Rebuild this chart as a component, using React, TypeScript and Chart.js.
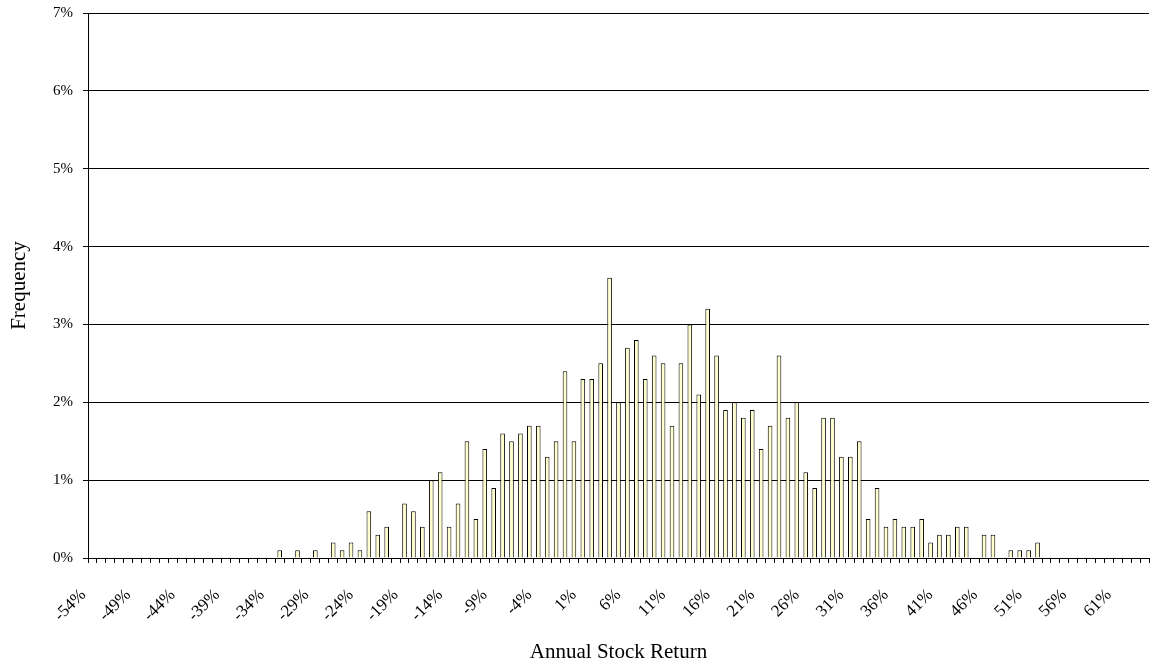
import React, { useEffect, useRef } from "react";
import { Chart, registerables } from "chart.js";

Chart.register(...registerables);

const categories: string[] = [
  "-54%", "-53%", "-52%", "-51%", "-50%", "-49%", "-48%", "-47%", "-46%", "-45%",
  "-44%", "-43%", "-42%", "-41%", "-40%", "-39%", "-38%", "-37%", "-36%", "-35%",
  "-34%", "-33%", "-32%", "-31%", "-30%", "-29%", "-28%", "-27%", "-26%", "-25%",
  "-24%", "-23%", "-22%", "-21%", "-20%", "-19%", "-18%", "-17%", "-16%", "-15%",
  "-14%", "-13%", "-12%", "-11%", "-10%", "-9%", "-8%", "-7%", "-6%", "-5%",
  "-4%", "-3%", "-2%", "-1%", "0%", "1%", "2%", "3%", "4%", "5%",
  "6%", "7%", "8%", "9%", "10%", "11%", "12%", "13%", "14%", "15%",
  "16%", "17%", "18%", "19%", "20%", "21%", "22%", "23%", "24%", "25%",
  "26%", "27%", "28%", "29%", "30%", "31%", "32%", "33%", "34%", "35%",
  "36%", "37%", "38%", "39%", "40%", "41%", "42%", "43%", "44%", "45%",
  "46%", "47%", "48%", "49%", "50%", "51%", "52%", "53%", "54%", "55%",
  "56%", "57%", "58%", "59%", "60%", "61%", "62%", "63%", "64%",
];

// frequency in percent, one per category
const frequency: number[] = [
  0, 0, 0, 0, 0, 0, 0, 0, 0, 0,
  0, 0, 0, 0, 0, 0, 0, 0, 0, 0,
  0, 0.1, 0, 0.1, 0, 0.1, 0, 0.2, 0.1, 0.2,
  0.1, 0.6, 0.3, 0.4, 0, 0.7, 0.6, 0.4, 1.0, 1.1,
  0.4, 0.7, 1.5, 0.5, 1.4, 0.9, 1.6, 1.5, 1.6, 1.7,
  1.7, 1.3, 1.5, 2.4, 1.5, 2.3, 2.3, 2.5, 3.6, 2.0,
  2.7, 2.8, 2.3, 2.6, 2.5, 1.7, 2.5, 3.0, 2.1, 3.2,
  2.6, 1.9, 2.0, 1.8, 1.9, 1.4, 1.7, 2.6, 1.8, 2.0,
  1.1, 0.9, 1.8, 1.8, 1.3, 1.3, 1.5, 0.5, 0.9, 0.4,
  0.5, 0.4, 0.4, 0.5, 0.2, 0.3, 0.3, 0.4, 0.4, 0,
  0.3, 0.3, 0, 0.1, 0.1, 0.1, 0.2, 0, 0, 0,
  0, 0, 0, 0, 0, 0, 0, 0, 0,
];

const yTicks: number[] = [0, 1, 2, 3, 4, 5, 6, 7];
const xTitle = "Annual Stock Return";
const yTitle = "Frequency";

export default function App() {
  const ref = useRef<HTMLCanvasElement | null>(null);

  useEffect(() => {
    if (!ref.current) return;
    Chart.defaults.font.family = "'Liberation Serif', 'Times New Roman', serif";
    Chart.defaults.color = "#000";
    const chart = new Chart(ref.current, {
      type: "bar",
      data: {
        labels: categories,
        datasets: [
          {
            data: frequency,
            backgroundColor: "#FFFFCC",
            borderColor: "#000000",
            borderWidth: 1,
            barPercentage: 0.52,
            categoryPercentage: 1,
          },
        ],
      },
      options: {
        animation: false,
        responsive: false,
        layout: { padding: { top: 13, right: 5, left: 0, bottom: 0 } },
        plugins: { legend: { display: false }, tooltip: { enabled: false } },
        scales: {
          x: {
            grid: {
              display: true,
              drawOnChartArea: false,
              drawTicks: true,
              tickLength: 5,
              color: "#000",
              offset: true,
            },
            border: { display: true, color: "#000", width: 1 },
            ticks: {
              autoSkip: false,
              maxRotation: 45,
              minRotation: 45,
              color: "#000",
              padding: 22,
              labelOffset: -9,
              font: { size: 17 },
              callback: (_v: any, i: number) => (i % 5 === 0 ? categories[i] : ""),
            },
            title: {
              display: true,
              text: xTitle,
              color: "#000",
              font: { size: 21 },
              padding: { top: 0, bottom: 1 },
            },
            afterFit: (s: any) => {
              s.height = 108;
              s.paddingLeft = 0;
              s.paddingRight = 0;
            },
          },
          y: {
            min: yTicks[0],
            max: yTicks[yTicks.length - 1],
            grid: { color: "#000", drawTicks: true, tickLength: 5, lineWidth: 1 },
            border: { display: true, color: "#000", width: 1 },
            ticks: {
              stepSize: 1,
              color: "#000",
              font: { size: 15 },
              padding: 10,
              callback: (v: any) => v + "%",
            },
            title: {
              display: true,
              text: yTitle,
              color: "#000",
              font: { size: 21 },
              padding: { top: 7, bottom: 0 },
            },
            afterFit: (s: any) => {
              s.width = 88;
              s.paddingTop = 0;
              s.paddingBottom = 0;
            },
          },
        },
      },
    });
    return () => chart.destroy();
  }, []);

  return (
    <div style={{ position: "fixed", left: 0, top: 0, width: 1154, height: 666, background: "#fff" }}>
      <canvas ref={ref} width={1154} height={666} style={{ display: "block" }} />
    </div>
  );
}
